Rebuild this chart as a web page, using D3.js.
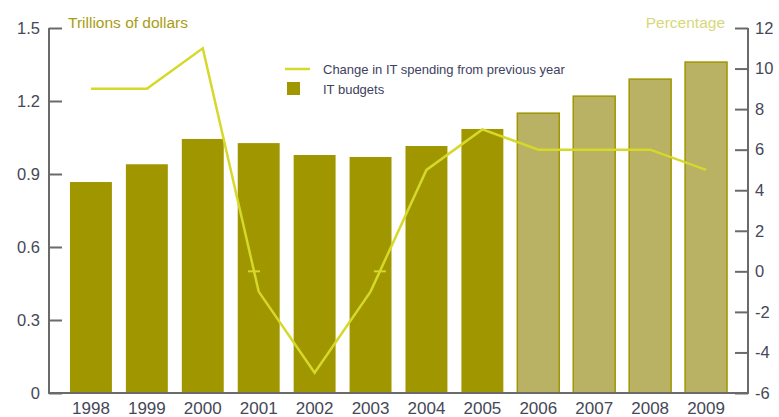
<!DOCTYPE html>
<html>
<head>
<meta charset="utf-8">
<script src="https://cdn.jsdelivr.net/npm/d3@7"></script>
<style>
  body { margin: 0; background: #fff; }
  text { font-family: "Liberation Sans", Arial, sans-serif; }
</style>
</head>
<body>
<svg id="chart"></svg>
<script>
// data
const years = ['1998', '1999', '2000', '2001', '2002', '2003', '2004', '2005', '2006', '2007', '2008', '2009'];
const budgets = [0.867, 0.94, 1.044, 1.027, 0.978, 0.97, 1.015, 1.085, 1.15, 1.22, 1.29, 1.36];
const change = [9, 9, 11, -1, -5, -1, 5, 7, 6, 6, 6, 5];
const forecastFrom = '2006';
const leftTicks = [0, 0.3, 0.6, 0.9, 1.2, 1.5];
const rightTicks = [-6, -4, -2, 0, 2, 4, 6, 8, 10, 12];

const width = 779, height = 417;
const margin = { top: 28, bottom: 24, left: 49, right: 31 };

const svg = d3.select('#chart')
    .attr('width', width)
    .attr('height', height);

const x = d3.scaleBand()
    .domain(years)
    .range([margin.left, width - margin.right])
    .paddingInner(0.25)
    .paddingOuter(0.375);

const yL = d3.scaleLinear().domain([0, 1.5]).range([height - margin.bottom, margin.top]);
const yR = d3.scaleLinear().domain([-6, 12]).range([height - margin.bottom, margin.top]);

const dark = '#a09600', light = '#b9b163', lineCol = '#d6d82a';
const axisCol = '#6a6a6a', labelCol = '#454858';

// bars
svg.selectAll('.bar')
    .data(years)
    .join('rect')
    .attr('class', 'bar')
    .attr('x', d => x(d))
    .attr('width', x.bandwidth())
    .attr('y', (d, i) => yL(budgets[i]))
    .attr('height', (d, i) => yL(0) - yL(budgets[i]))
    .attr('fill', d => d >= forecastFrom ? light : dark)
    .attr('stroke', d => d >= forecastFrom ? dark : 'none')
    .attr('stroke-width', 1.5);

// line
const line = d3.line()
    .x((d, i) => x(years[i]) + x.bandwidth() / 2)
    .y(d => yR(d));

svg.append('path')
    .datum(change)
    .attr('d', line)
    .attr('fill', 'none')
    .attr('stroke', lineCol)
    .attr('stroke-width', 2.5);

// little marks where the line crosses zero
for (let i = 1; i < change.length; i++) {
    const a = change[i - 1], b = change[i];
    if ((a > 0 && b < 0) || (a < 0 && b > 0)) {
        const t = a / (a - b);
        const xa = x(years[i - 1]) + x.bandwidth() / 2;
        const xb = x(years[i]) + x.bandwidth() / 2;
        const cx = xa + (xb - xa) * t;
        svg.append('line')
            .attr('x1', cx - 6).attr('x2', cx + 6)
            .attr('y1', yR(0)).attr('y2', yR(0))
            .attr('stroke', lineCol)
            .attr('stroke-width', 2);
    }
}

// axes
const styleAxis = (g, size) => {
    g.select('.domain').remove();
    g.selectAll('.tick line').attr('stroke', axisCol).attr('stroke-width', 2);
    g.selectAll('.tick text')
        .attr('fill', labelCol)
        .style('font-size', size + 'px');
};

svg.append('g')
    .attr('transform', `translate(${margin.left},0)`)
    .call(d3.axisRight(yL).tickValues(leftTicks).tickSize(13).tickFormat(d => d === 0 ? '0' : d3.format('.1f')(d)))
    .call(styleAxis, 16.5)
    .call(g => g.selectAll('.tick text').attr('x', -9).attr('text-anchor', 'end'));

svg.append('g')
    .attr('transform', `translate(${width - margin.right},0)`)
    .call(d3.axisLeft(yR).tickValues(rightTicks).tickSize(13).tickFormat(d => String(d)))
    .call(styleAxis, 16.5)
    .call(g => g.selectAll('.tick text').attr('x', 7).attr('text-anchor', 'start'));

svg.append('g')
    .attr('transform', `translate(0,${height - margin.bottom})`)
    .call(d3.axisBottom(x).tickSize(0).tickPadding(8))
    .call(styleAxis, 17)
    .call(g => g.selectAll('.tick text').attr('dy', '0.75em'));

// axis frame lines
svg.append('path')
    .attr('d', `M${margin.left},${yL(1.5)}V${yL(0)}H${width - margin.right}V${yR(12)}`)
    .attr('fill', 'none')
    .attr('stroke', axisCol)
    .attr('stroke-width', 2);

// axis titles
svg.append('text')
    .attr('x', 68).attr('y', 28)
    .attr('fill', '#a89c12')
    .style('font-size', '15.5px')
    .text('Trillions of dollars');

svg.append('text')
    .attr('x', 725).attr('y', 28)
    .attr('text-anchor', 'end')
    .attr('fill', '#d8d878')
    .style('font-size', '15.5px')
    .text('Percentage');

// legend
const legend = svg.append('g').attr('transform', 'translate(285,69)');
legend.append('line')
    .attr('x1', 0).attr('x2', 25).attr('y1', 0).attr('y2', 0)
    .attr('stroke', lineCol).attr('stroke-width', 2.5);
legend.append('text')
    .attr('x', 38).attr('y', 5)
    .attr('fill', '#3e4160')
    .style('font-size', '13px')
    .text('Change in IT spending from previous year');
legend.append('rect')
    .attr('x', 2).attr('y', 13).attr('width', 13).attr('height', 13)
    .attr('fill', dark);
legend.append('text')
    .attr('x', 38).attr('y', 25)
    .attr('fill', '#3e4160')
    .style('font-size', '13px')
    .text('IT budgets');
</script>
</body>
</html>
